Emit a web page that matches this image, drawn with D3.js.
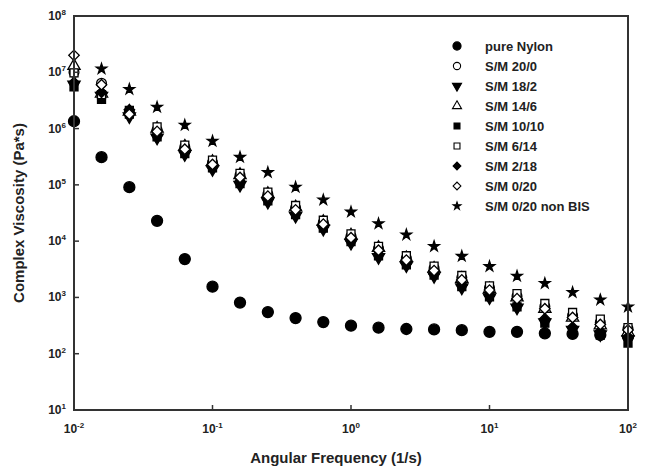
<!DOCTYPE html>
<html>
<head>
<meta charset="utf-8">
<script src="https://cdn.jsdelivr.net/npm/d3@7"></script>
<style>
  body { margin: 0; background: #fff; }
  text { font-family: "Liberation Sans", Arial, sans-serif; font-weight: bold; fill: #222; }
</style>
</head>
<body>
<svg id="chart"></svg>
<script>
// angular frequency (1/s), 5 points per decade
var freq = [0.01, 0.0158, 0.0251, 0.0398, 0.0631, 0.1, 0.158, 0.251, 0.398, 0.631,
            1, 1.58, 2.51, 3.98, 6.31, 10, 15.8, 25.1, 39.8, 63.1, 100];

// complex viscosity (Pa*s)
var pureNylon = [1.35e6, 3.1e5, 9.1e4, 2.3e4, 4.8e3, 1.55e3, 810, 550, 430, 365,
                 315, 290, 275, 270, 262, 245, 245, 230, 225, 215, 200];
var sm20_0 = [1.0e7, 6.4e6, 2.0e6, 9.5e5, 4.7e5, 2.5e5, 1.48e5, 6.8e4, 3.9e4, 2.15e4,
              1.23e4, 7.4e3, 5.0e3, 3.3e3, 2.25e3, 1.48e3, 1050, 690, 480, 360, 280];
var sm18_2 = [6.0e6, 3.8e6, 1.65e6, 6.9e5, 3.5e5, 1.9e5, 1.0e5, 5.0e4, 2.8e4, 1.66e4,
              9.3e3, 5.2e3, 3.7e3, 2.4e3, 1.5e3, 1.0e3, 660, 360, 265, 220, 180];
var sm14_6 = [1.3e7, 4.2e6, 2.0e6, 1.0e6, 4.8e5, 2.55e5, 1.5e5, 6.9e4, 4.0e4, 2.2e4,
              1.26e4, 7.6e3, 5.0e3, 3.25e3, 2.15e3, 1.4e3, 1.0e3, 630, 440, 320, 240];
var sm10_10 = [5.5e6, 3.3e6, 1.8e6, 7.1e5, 3.6e5, 2.0e5, 1.05e5, 5.2e4, 2.95e4, 1.7e4,
               9.8e3, 5.5e3, 3.8e3, 2.5e3, 1.55e3, 1.02e3, 680, 350, 260, 215, 155];
var sm6_14 = [9.8e6, 4.0e6, 2.1e6, 1.07e6, 5.1e5, 2.75e5, 1.6e5, 7.4e4, 4.3e4, 2.35e4,
              1.35e4, 8.1e3, 5.5e3, 3.6e3, 2.45e3, 1.6e3, 1170, 780, 540, 410, 290];
var sm2_18 = [6.6e6, 4.4e6, 2.15e6, 7.6e5, 3.8e5, 2.05e5, 1.15e5, 5.5e4, 3.1e4, 1.78e4,
              1.02e4, 5.8e3, 4.0e3, 2.6e3, 1.65e3, 1.07e3, 720, 420, 295, 250, 200];
var sm0_20 = [2.0e7, 6.0e6, 1.8e6, 8.9e5, 4.3e5, 2.3e5, 1.35e5, 6.3e4, 3.6e4, 2.0e4,
              1.15e4, 6.9e3, 4.6e3, 3.0e3, 2.05e3, 1.35e3, 950, 630, 440, 330, 265];
var sm0_20nonBIS = [null, 1.15e7, 5.0e6, 2.4e6, 1.15e6, 6.0e5, 3.1e5, 1.66e5, 9.1e4, 5.4e4,
                    3.3e4, 2.05e4, 1.3e4, 8.1e3, 5.4e3, 3.55e3, 2.4e3, 1.78e3, 1.23e3, 910, 680];

var seriesNames = ["pure Nylon", "S/M 20/0", "S/M 18/2", "S/M 14/6", "S/M 10/10",
                   "S/M 6/14", "S/M 2/18", "S/M 0/20", "S/M 0/20 non BIS"];
var seriesValues = [pureNylon, sm20_0, sm18_2, sm14_6, sm10_10, sm6_14, sm2_18, sm0_20, sm0_20nonBIS];

var xTicks = [-2, -1, 0, 1, 2];
var yTicks = [1, 2, 3, 4, 5, 6, 7, 8];

var width = 651, height = 470;
var margin = {top: 16, right: 23, bottom: 60, left: 74};

var svg = d3.select('#chart').attr('width', width).attr('height', height);

var x = d3.scaleLog().domain([0.01, 100]).range([margin.left, width - margin.right]);
var y = d3.scaleLog().domain([10, 1e8]).range([height - margin.bottom, margin.top]);

// marker styles, one per series (diamonds are rotated squares)
var markers = [
    {type: d3.symbolCircle, size: 95, fill: '#000', rot: 0},
    {type: d3.symbolCircle, size: 75, fill: '#fff', rot: 0},
    {type: d3.symbolTriangle, size: 65, fill: '#000', rot: 180},
    {type: d3.symbolTriangle, size: 65, fill: '#fff', rot: 0},
    {type: d3.symbolSquare, size: 64, fill: '#000', rot: 0},
    {type: d3.symbolSquare, size: 64, fill: '#fff', rot: 0},
    {type: d3.symbolSquare, size: 55, fill: '#000', rot: 45},
    {type: d3.symbolSquare, size: 55, fill: '#fff', rot: 45},
    {type: d3.symbolStar, size: 34, fill: '#000', rot: 0}
];

// data points
seriesValues.forEach(function (vals, i) {
    var m = markers[i];
    var pts = freq.map(function (f, j) { return {f: f, v: vals[j]}; })
                  .filter(function (d) { return d.v != null; });
    svg.append('g').selectAll('path')
        .data(pts)
        .enter().append('path')
        .attr('d', d3.symbol().type(m.type).size(m.size))
        .attr('transform', d => 'translate(' + x(d.f) + ',' + y(d.v) + ') rotate(' + m.rot + ')')
        .style('fill', m.fill)
        .style('stroke', '#000')
        .style('stroke-width', 1.3);
});

// frame
svg.append('rect')
    .attr('x', margin.left).attr('y', margin.top)
    .attr('width', width - margin.right - margin.left)
    .attr('height', height - margin.bottom - margin.top)
    .style('fill', 'none').style('stroke', '#333').style('stroke-width', 2);

// x axis ticks (inside) and labels
var xAxis = svg.append('g');
xTicks.forEach(function (e) {
    var px = x(Math.pow(10, e));
    xAxis.append('line')
        .attr('x1', px).attr('x2', px)
        .attr('y1', height - margin.bottom).attr('y2', height - margin.bottom - 5)
        .style('stroke', '#333').style('stroke-width', 1.5);
    var t = xAxis.append('text')
        .attr('x', px).attr('y', height - margin.bottom + 23)
        .attr('text-anchor', 'middle')
        .style('font-size', '12px');
    t.append('tspan').text('10');
    t.append('tspan').attr('dy', -5).style('font-size', '8px').text(String(e));
});

// y axis ticks (inside) and labels
var yAxis = svg.append('g');
yTicks.forEach(function (e) {
    var py = y(Math.pow(10, e));
    yAxis.append('line')
        .attr('x1', margin.left).attr('x2', margin.left + 5)
        .attr('y1', py).attr('y2', py)
        .style('stroke', '#333').style('stroke-width', 1.5);
    var t = yAxis.append('text')
        .attr('x', margin.left - 8).attr('y', py + 4)
        .attr('text-anchor', 'end')
        .style('font-size', '12px');
    t.append('tspan').text('10');
    t.append('tspan').attr('dy', -5).style('font-size', '8px').text(String(e));
});

// axis titles
svg.append('text')
    .attr('x', 336)
    .attr('y', height - 7)
    .attr('text-anchor', 'middle')
    .style('font-size', '15px')
    .text('Angular Frequency (1/s)');

svg.append('text')
    .attr('transform', 'translate(24,' + ((margin.top + height - margin.bottom) / 2) + ') rotate(-90)')
    .attr('text-anchor', 'middle')
    .style('font-size', '15px')
    .text('Complex Viscosity (Pa*s)');

// legend
var legend = svg.append('g').attr('transform', 'translate(457,46)');
seriesNames.forEach(function (name, i) {
    var m = markers[i];
    legend.append('path')
        .attr('d', d3.symbol().type(m.type).size(m.size * 0.55))
        .attr('transform', 'translate(0,' + (i * 20) + ') rotate(' + m.rot + ')')
        .style('fill', m.fill)
        .style('stroke', '#000')
        .style('stroke-width', 1.1);
    legend.append('text')
        .attr('x', 28).attr('y', i * 20 + 5)
        .style('font-size', '13px')
        .text(name);
});
</script>
</body>
</html>
